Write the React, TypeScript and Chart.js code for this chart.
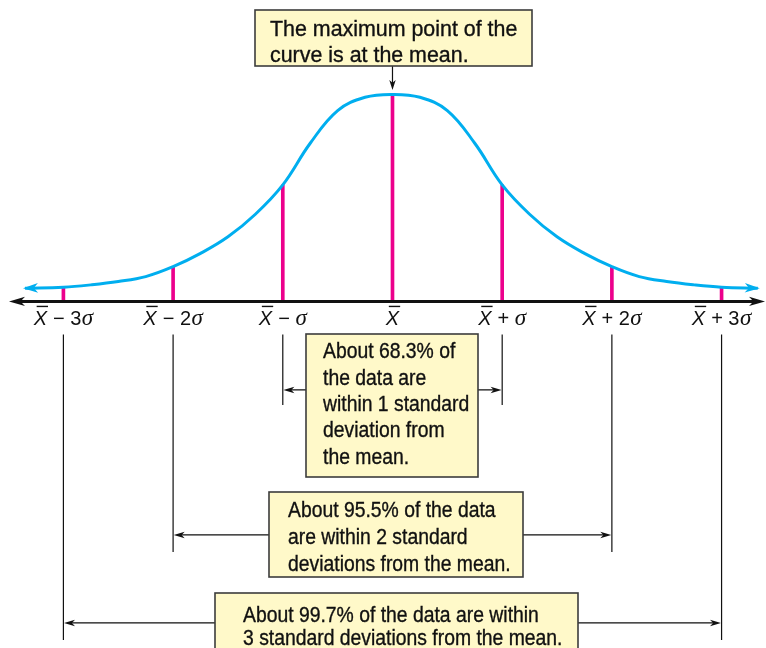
import React, { useEffect, useRef } from "react";
import { Chart, registerables } from "chart.js";

Chart.register(...registerables);

// ---- data ----
// curve: position in standard deviations from the mean, height as % of the peak
const curveSigma = [-3.35, -3.0, -2.75, -2.5, -2.25, -2.0, -1.75, -1.5, -1.25, -1.0, -0.75, -0.5, -0.25, 0, 0.25, 0.5, 0.75, 1.0, 1.25, 1.5, 1.75, 2.0, 2.25, 2.5, 2.75, 3.0, 3.33];
const curveHeight = [6.4, 6.9, 8.0, 9.6, 12.0, 16.8, 23.2, 31.2, 42.1, 56.3, 76.4, 92.2, 98.6, 100, 98.6, 92.2, 76.4, 56.3, 42.1, 31.2, 23.2, 16.8, 12.0, 9.6, 8.0, 6.9, 6.4];
const markerSigma = [-3, -2, -1, 0, 1, 2, 3];
const markerHeight = [6.9, 16.8, 56.3, 100, 56.3, 16.8, 6.9];
const tickOperator = ["−", "−", "−", "", "+", "+", "+"];
const tickMultiple = ["3", "2", "", "", "", "2", "3"];
const bracketSigma = [1, 2, 3];

const maxNoteLines = ["The maximum point of the", "curve is at the mean."];
const oneSigmaLines = ["About 68.3% of", "the data are", "within 1 standard", "deviation from", "the mean."];
const twoSigmaLines = ["About 95.5% of the data", "are within 2 standard", "deviations from the mean."];
const threeSigmaLines = ["About 99.7% of the data are within", "3 standard deviations from the mean."];

// ---- styles / layout ----
const CYAN = "#00aeef";
const MAGENTA = "#ec008c";
const INK = "#111111";
const BOX_FILL = "#fff9c9";
const BOX_EDGE = "#3c3c3c";
const SANS = '"Liberation Sans", Arial, Helvetica, sans-serif';
const SERIF = '"Liberation Serif", "Times New Roman", serif';

const X_MIN = -3.578;
const X_MAX = 3.405;
const Y_MIN = -167.4;
const Y_MAX = 145.6;
const AXIS_FROM = -3.496;
const AXIS_TO = 3.396;

// bracket layout: offsets below the axis line (px)
const bracketTop = 33;
const bracketBottom = [103.5, 250.5, 338.5];
const bracketArrowY = [88.5, 233.5, 321.5];

const boxes = [
  { lines: maxNoteLines, x: 255, y: 10, w: 277, h: 56, tx: 270, base: 36, lh: 26.4, size: 21.5, sx: 0.995 },
  { lines: oneSigmaLines, x: 306, y: 334, w: 172, h: 143, tx: 323, base: 358.3, lh: 26.3, size: 21.5, sx: 0.9 },
  { lines: twoSigmaLines, x: 269, y: 492, w: 254, h: 85, tx: 288, base: 517.3, lh: 27, size: 21.5, sx: 0.9 },
  { lines: threeSigmaLines, x: 215, y: 593, w: 363, h: 80, tx: 243, base: 621.7, lh: 23.5, size: 21.5, sx: 0.9 },
];

function arrowHead(ctx: CanvasRenderingContext2D, x: number, y: number, angle: number, len: number, half: number, color: string) {
  ctx.save();
  ctx.translate(x, y);
  ctx.rotate(angle);
  ctx.beginPath();
  ctx.moveTo(0, 0);
  ctx.lineTo(-len, -half);
  ctx.lineTo(-len * 0.72, 0);
  ctx.lineTo(-len, half);
  ctx.closePath();
  ctx.fillStyle = color;
  ctx.fill();
  ctx.restore();
}

function squeezedText(ctx: CanvasRenderingContext2D, text: string, x: number, y: number, sx: number) {
  ctx.save();
  ctx.translate(x, y);
  ctx.scale(sx, 1);
  ctx.fillText(text, 0, 0);
  ctx.lineWidth = 0.35;
  ctx.strokeStyle = INK;
  ctx.strokeText(text, 0, 0);
  ctx.restore();
}

function drawTickLabel(ctx: CanvasRenderingContext2D, cx: number, baseline: number, op: string, mult: string) {
  const xFont = `italic 20px ${SANS}`;
  const sansFont = `20px ${SANS}`;
  const sigmaFont = `italic 23px ${SERIF}`;
  const pieces: { t: string; font: string; gapAfter: number }[] = [{ t: "X", font: xFont, gapAfter: 0 }];
  if (op) {
    pieces[0].gapAfter = 6;
    pieces.push({ t: op, font: sansFont, gapAfter: 5.5 });
    if (mult) pieces.push({ t: mult, font: sansFont, gapAfter: 0.5 });
    pieces.push({ t: "σ", font: sigmaFont, gapAfter: 0 });
  }
  let total = 0;
  const widths: number[] = [];
  for (const p of pieces) {
    ctx.font = p.font;
    const w = ctx.measureText(p.t).width;
    widths.push(w);
    total += w + p.gapAfter;
  }
  let x = cx - total / 2;
  ctx.fillStyle = INK;
  ctx.textBaseline = "alphabetic";
  ctx.textAlign = "left";
  pieces.forEach((p, i) => {
    ctx.font = p.font;
    ctx.fillText(p.t, x, baseline);
    if (i === 0) {
      ctx.strokeStyle = INK;
      ctx.lineWidth = 1.4;
      ctx.beginPath();
      ctx.moveTo(x + 3, baseline - 19);
      ctx.lineTo(x + widths[0] + 1, baseline - 19);
      ctx.stroke();
    }
    x += widths[i] + p.gapAfter;
  });
}

const overlayPlugin = {
  id: "normalOverlay",
  afterDatasetsDraw(chart: any) {
    const ctx: CanvasRenderingContext2D = chart.ctx;
    const xs = chart.scales.x;
    const ys = chart.scales.y;
    const y0 = ys.getPixelForValue(0);
    ctx.save();

    // arrow heads at the ends of the curve
    const pts = chart.getDatasetMeta(0).data;
    const a = pts[0], b = pts[1];
    const angL = Math.atan2(a.y - b.y, a.x - b.x);
    arrowHead(ctx, a.x + Math.cos(angL) * 2, a.y + Math.sin(angL) * 2, angL, 15, 4.8, CYAN);
    const z = pts[pts.length - 1], w = pts[pts.length - 2];
    const angR = Math.atan2(z.y - w.y, z.x - w.x);
    arrowHead(ctx, z.x + Math.cos(angR) * 2, z.y + Math.sin(angR) * 2, angR, 15, 4.8, CYAN);

    // horizontal axis with arrows
    const axL = xs.getPixelForValue(AXIS_FROM);
    const axR = xs.getPixelForValue(AXIS_TO);
    ctx.strokeStyle = INK;
    ctx.lineWidth = 3;
    ctx.beginPath();
    ctx.moveTo(axL + 10, y0);
    ctx.lineTo(axR - 10, y0);
    ctx.stroke();
    arrowHead(ctx, axL, y0, Math.PI, 16, 4.6, INK);
    arrowHead(ctx, axR, y0, 0, 16, 4.6, INK);

    // tick labels
    markerSigma.forEach((s, i) => {
      drawTickLabel(ctx, xs.getPixelForValue(s), y0 + 24, tickOperator[i], tickMultiple[i]);
    });

    // brackets
    ctx.strokeStyle = INK;
    ctx.lineWidth = 1.2;
    bracketSigma.forEach((s, i) => {
      const xl = xs.getPixelForValue(-s);
      const xr = xs.getPixelForValue(s);
      ctx.beginPath();
      ctx.moveTo(xl, y0 + bracketTop);
      ctx.lineTo(xl, y0 + bracketBottom[i]);
      ctx.moveTo(xr, y0 + bracketTop);
      ctx.lineTo(xr, y0 + bracketBottom[i]);
      ctx.moveTo(xl + 6, y0 + bracketArrowY[i]);
      ctx.lineTo(xr - 6, y0 + bracketArrowY[i]);
      ctx.stroke();
      arrowHead(ctx, xl + 0.6, y0 + bracketArrowY[i], Math.PI, 11, 3.2, INK);
      arrowHead(ctx, xr - 0.6, y0 + bracketArrowY[i], 0, 11, 3.2, INK);
    });

    // pointer from the top note to the peak
    const mx = xs.getPixelForValue(0);
    ctx.beginPath();
    ctx.moveTo(mx, 66);
    ctx.lineTo(mx, 84);
    ctx.stroke();
    arrowHead(ctx, mx, 90, Math.PI / 2, 10, 3.2, INK);

    // note boxes
    boxes.forEach((bx) => {
      ctx.fillStyle = BOX_FILL;
      ctx.fillRect(bx.x, bx.y, bx.w, bx.h);
      ctx.strokeStyle = BOX_EDGE;
      ctx.lineWidth = 1.6;
      ctx.strokeRect(bx.x, bx.y, bx.w, bx.h);
      ctx.fillStyle = INK;
      ctx.font = `${bx.size}px ${SANS}`;
      ctx.textAlign = "left";
      ctx.textBaseline = "alphabetic";
      bx.lines.forEach((ln, i) => squeezedText(ctx, ln, bx.tx, bx.base + i * bx.lh, bx.sx));
    });

    ctx.restore();
  },
};

export default function App() {
  const ref = useRef<HTMLCanvasElement | null>(null);
  useEffect(() => {
    if (!ref.current) return;
    const chart = new Chart(ref.current, {
      type: "line",
      data: {
        datasets: [
          {
            type: "line",
            label: "Normal curve",
            data: curveSigma.map((s, i) => ({ x: s, y: curveHeight[i] })),
            borderColor: CYAN,
            borderWidth: 3,
            pointRadius: 0,
            fill: false,
            tension: 0.4,
            order: 0,
          } as any,
          {
            type: "bar",
            label: "Markers",
            data: markerSigma.map((s, i) => ({ x: s, y: markerHeight[i] })),
            backgroundColor: MAGENTA,
            borderWidth: 0,
            barThickness: 3,
            order: 1,
          } as any,
        ],
      },
      options: {
        animation: false,
        responsive: false,
        maintainAspectRatio: false,
        layout: { padding: 0 },
        plugins: { legend: { display: false }, tooltip: { enabled: false } },
        scales: {
          x: { type: "linear", min: X_MIN, max: X_MAX, display: false, offset: false, grid: { display: false } },
          y: { type: "linear", min: Y_MIN, max: Y_MAX, display: false, grid: { display: false } },
        },
      },
      plugins: [overlayPlugin],
    });
    return () => chart.destroy();
  }, []);
  return (
    <div style={{ position: "absolute", left: 0, top: 0, width: 766, height: 648, background: "#ffffff" }}>
      <canvas ref={ref} width={766} height={648} style={{ display: "block", width: 766, height: 648 }} />
    </div>
  );
}
